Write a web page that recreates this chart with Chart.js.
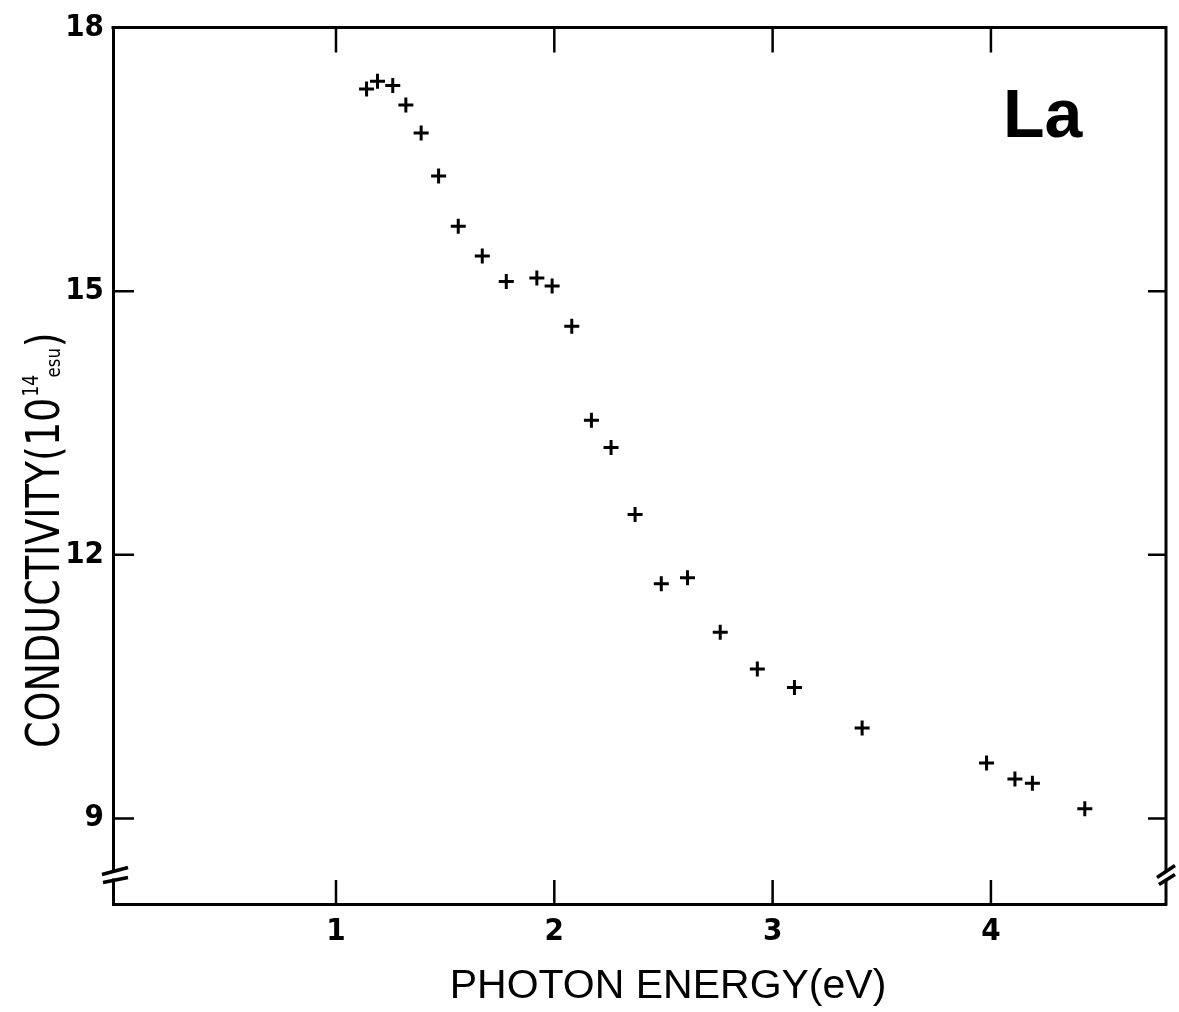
<!DOCTYPE html>
<html>
<head>
<meta charset="utf-8">
<script src="https://cdn.jsdelivr.net/npm/chart.js@4/dist/chart.umd.min.js"></script>
<style>
  html, body { margin: 0; padding: 0; background: #ffffff; }
  #wrap { width: 1179px; height: 1012px; }
</style>
</head>
<body>
<div id="wrap"><canvas id="c" width="1179" height="1012"></canvas></div>
<script>
// ---- data ----
const energy = [1.14, 1.19, 1.26, 1.32, 1.39, 1.47, 1.56, 1.67, 1.78, 1.92, 1.99, 2.08,
                2.17, 2.26, 2.37, 2.49, 2.61, 2.76, 2.93, 3.10, 3.41, 3.98, 4.11, 4.19, 4.43];
const conductivity = [17.30, 17.39, 17.34, 17.12, 16.80, 16.31, 15.74, 15.40, 15.11, 15.15, 15.06, 14.60,
                      13.53, 13.22, 12.46, 11.67, 11.74, 11.12, 10.70, 10.49, 10.03, 9.63, 9.45, 9.40, 9.11];
const xTickValues = [1, 2, 3, 4];
const yTickValues = [9, 12, 15, 18];
const xTitle = 'PHOTON ENERGY(eV)';
const yTitleMain = 'CONDUCTIVITY(10';
const yTitleSup = '14';
const yTitleUnit = 'esu';
const yTitleEnd = ')';
const panelLabel = 'La';
const yBreakValue = 8.35;

const NARROW = '"Liberation Sans Narrow", "DejaVu Sans Condensed", "Liberation Sans", sans-serif';
const SANS = '"Liberation Sans", Arial, sans-serif';

const framePlugin = {
  id: 'frame',
  afterDraw(chart) {
    const ctx = chart.ctx;
    const a = chart.chartArea;
    const xs = chart.scales.x, ys = chart.scales.y;
    ctx.save();
    ctx.strokeStyle = '#000';
    ctx.fillStyle = '#000';
    ctx.lineCap = 'butt';
    ctx.lineWidth = 3;
    // top and right frame lines
    ctx.beginPath();
    ctx.moveTo(a.left - 1.5, a.top);
    ctx.lineTo(a.right, a.top);
    ctx.lineTo(a.right, a.bottom + 1.5);
    ctx.stroke();
    // inward ticks
    ctx.lineWidth = 2.5;
    xTickValues.forEach(v => {
      const px = xs.getPixelForValue(v);
      ctx.beginPath();
      ctx.moveTo(px, a.bottom); ctx.lineTo(px, a.bottom - 24);
      ctx.moveTo(px, a.top); ctx.lineTo(px, a.top + 25);
      ctx.stroke();
    });
    yTickValues.forEach(v => {
      if (v >= ys.max) return;
      const py = ys.getPixelForValue(v);
      ctx.beginPath();
      ctx.moveTo(a.left, py); ctx.lineTo(a.left + 21, py);
      ctx.moveTo(a.right, py); ctx.lineTo(a.right - 18, py);
      ctx.stroke();
    });
    // axis break marks
    const by = ys.getPixelForValue(yBreakValue);
    ctx.fillStyle = '#fff';
    ctx.fillRect(a.left - 3, by - 3, 6, 6);
    ctx.fillRect(a.right - 3, by - 4, 6, 8);
    ctx.lineWidth = 3.5;
    ctx.beginPath();
    ctx.moveTo(a.left - 11, by - 1); ctx.lineTo(a.left + 15, by - 8);
    ctx.moveTo(a.left - 10, by + 7); ctx.lineTo(a.left + 15, by + 2);
    ctx.moveTo(a.right - 9, by + 2); ctx.lineTo(a.right + 9, by - 10);
    ctx.moveTo(a.right - 7, by + 9); ctx.lineTo(a.right + 9, by - 1);
    ctx.stroke();
    ctx.fillStyle = '#000';
    // x axis title
    ctx.font = '41px ' + SANS;
    ctx.textAlign = 'center';
    ctx.textBaseline = 'alphabetic';
    ctx.fillText(xTitle, 668, 998);
    // y axis title (rotated, slightly condensed along the text)
    ctx.save();
    ctx.translate(59, 748);
    ctx.rotate(-Math.PI / 2);
    ctx.scale(0.92, 1);
    ctx.textAlign = 'left';
    ctx.font = '46px ' + NARROW;
    ctx.fillText(yTitleMain, 0, 0);
    let w = ctx.measureText(yTitleMain).width;
    ctx.font = '21px ' + NARROW;
    ctx.fillText(yTitleSup, w + 1, -21);
    w += ctx.measureText(yTitleSup).width - 2;
    ctx.font = '20px ' + NARROW;
    ctx.fillText(yTitleUnit, w, 1);
    w += ctx.measureText(yTitleUnit).width + 1;
    ctx.font = '46px ' + NARROW;
    ctx.fillText(yTitleEnd, w, 0);
    ctx.restore();
    // panel label
    ctx.font = 'bold 68px ' + SANS;
    ctx.textAlign = 'left';
    ctx.fillText(panelLabel, 1003, 137);
    ctx.restore();
  }
};

const tickFont = { family: NARROW, size: 31, weight: 'bold' };

new Chart(document.getElementById('c').getContext('2d'), {
  type: 'scatter',
  data: {
    datasets: [{
      data: energy.map((e, i) => ({ x: e, y: conductivity[i] })),
      pointStyle: 'cross',
      pointRadius: 7.5,
      pointBorderWidth: 3,
      borderColor: '#000',
      backgroundColor: '#000',
      showLine: false
    }]
  },
  options: {
    responsive: false,
    animation: false,
    devicePixelRatio: 1,
    layout: { padding: { top: 18, right: 13, left: 0, bottom: 0 } },
    plugins: { legend: { display: false }, tooltip: { enabled: false } },
    scales: {
      x: {
        type: 'linear', min: -0.0215, max: 4.802,
        afterBuildTicks: s => { s.ticks = xTickValues.map(v => ({ value: v })); },
        afterFit: s => { s.height = 108; },
        grid: { display: false, drawTicks: false },
        border: { display: true, color: '#000', width: 3 },
        ticks: { font: tickFont, color: '#000', padding: 9, maxRotation: 0, autoSkip: false,
                 callback: v => String(v) }
      },
      y: {
        type: 'linear', min: 8.026, max: 18,
        afterBuildTicks: s => { s.ticks = yTickValues.map(v => ({ value: v })); },
        afterFit: s => { s.width = 113; },
        grid: { display: false, drawTicks: false },
        border: { display: true, color: '#000', width: 3 },
        ticks: { font: tickFont, color: '#000', padding: 9, autoSkip: false,
                 callback: v => String(v) }
      }
    }
  },
  plugins: [framePlugin]
});
</script>
</body>
</html>
